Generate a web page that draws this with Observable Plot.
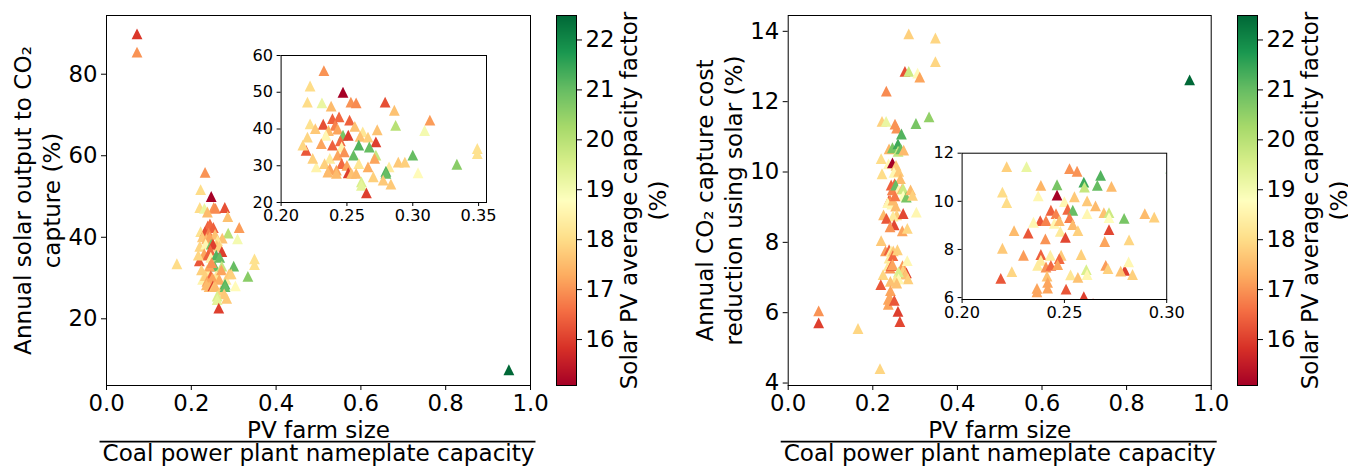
<!DOCTYPE html>
<html><head><meta charset="utf-8">
<script src="https://cdn.jsdelivr.net/npm/d3@7"></script>
<script src="https://cdn.jsdelivr.net/npm/@observablehq/plot@0.6"></script>
<style>
html,body{margin:0;padding:0;background:#fff;}
#chart{position:relative;width:1348px;height:466px;overflow:hidden;font-family:"DejaVu Sans";}
#chart svg{position:absolute;left:0;top:0;}
</style></head><body><div id="chart"></div>
<script>
// ---------- data: left panel (annual solar output to CO2 capture) ----------
const outputX = [0.072,0.072,0.949,0.166,0.2325,0.222,0.220,0.231,0.253,0.257,0.238,0.279,0.286,0.239,0.244,0.252,0.313,0.222,0.232,0.241,0.226,0.256,0.287,0.309,0.273,0.262,0.236,0.243,0.260,0.220,0.234,0.247,0.251,0.266,0.272,0.245,0.219,0.2305,0.239,0.246,0.259,0.267,0.255,0.272,0.300,0.349,0.349,0.3335,0.2165,0.237,0.243,0.248,0.259,0.271,0.282,0.289,0.294,0.304,0.2267,0.224,0.233,0.246,0.250,0.266,0.237,0.242,0.2355,0.242,0.251,0.2535,0.257,0.270,0.2796,0.2796,0.2775,0.261,0.261,0.2834,0.2648,0.247];
const outputY = [89.9,85.4,7.5,33.5,55.9,51.7,47.3,47.1,47.3,47.1,46.2,47.3,45.1,42.8,43.3,42.4,42.4,41.4,41.3,41.0,40.1,40.7,41.0,39.6,39.8,39.2,39.6,40.0,38.0,37.8,38.3,38.3,38.3,37.8,36.5,36.8,34.2,36.0,35.6,35.1,35.6,35.1,32.9,32.9,32.9,34.7,33.3,30.4,35.6,32.0,32.9,33.8,30.6,32.0,29.7,31.0,31.0,28.1,29.7,32.0,30.6,30.6,30.1,29.7,29.2,28.8,28.3,27.9,28.1,27.9,27.9,27.0,28.5,27.9,26.1,25.6,24.7,25.0,22.6,50.0];
const outputCF = [15.9,17.0,22.49,18.0,17.0,18.0,18.0,19.2,17.0,16.9,17.5,16.2,17.6,16.4,16.5,16.4,17.1,18.1,16.2,16.8,17.7,17.6,20.0,19.0,17.6,18.2,17.5,17.2,17.6,17.9,18.6,20.8,16.0,17.8,16.0,16.5,16.3,17.2,16.4,18.5,21.2,21.0,21.0,19.8,21.0,18.1,18.1,20.6,17.9,18.3,17.2,17.0,18.2,17.2,18.3,17.7,17.8,18.7,18.5,17.8,17.8,16.5,17.2,17.3,17.2,17.2,17.5,17.5,16.0,17.6,17.5,17.8,21.2,21.0,17.7,19.5,19.3,17.7,16.0,15.1];

// ---------- data: right panel (annual CO2 capture cost reduction) ----------
const costX = [0.285,0.348,0.348,0.276,0.285,0.306,0.311,0.949,0.232,0.302,0.333,0.072,0.072,0.165,0.217,0.264,0.303,
  0.2218,0.2315,0.2525,0.2562,0.2385,0.2464,0.2197,0.2218,0.2372,0.2464,0.2595,0.2598,0.2677,0.2661,0.273,0.2549,0.250,0.2611,0.2652,0.2434,0.2459,0.2516,0.2541,0.2611,0.2693,0.2718,0.2718,0.2792,0.2893,0.2939,0.2382,0.241,0.2349,0.2451,0.2475,0.2525,0.2541,0.2566,0.248,0.2254,0.2323,0.2505,0.2407,0.2718,0.2697,0.2816,0.2197,0.230,0.2385,0.2385,0.2431,0.2484,0.2475,0.2582,0.2369,0.241,0.2434,0.2467,0.2243,0.2189,0.2702,0.2713,0.2795,0.2775,0.2814,0.2833,0.2607,0.2611,0.253,0.2566,0.2415,0.2418,0.2418,0.2366,0.2366,0.2508,0.2595];
const costY = [13.93,13.81,13.14,12.86,12.86,12.81,12.70,12.62,12.30,11.38,11.57,6.05,5.71,5.55,4.41,5.75,8.86,
  11.44,11.44,11.36,11.25,10.66,10.69,10.38,9.95,10.23,10.26,10.80,10.59,11.08,10.66,10.62,10.19,9.99,10.02,9.81,9.63,9.49,9.67,9.63,9.49,9.53,9.53,9.32,9.29,9.49,9.34,9.20,9.20,9.13,9.09,9.20,9.32,9.03,8.78,8.75,8.78,8.68,8.50,8.44,8.82,8.33,8.40,8.05,7.76,7.79,7.55,7.76,7.76,7.62,7.79,7.34,7.27,7.34,7.37,7.08,6.80,7.34,7.20,7.13,7.10,7.48,6.96,7.16,6.96,6.94,6.84,6.89,6.63,6.39,6.38,6.24,6.35,6.04];
const costCF = [17.8,17.9,17.9,16.2,19.7,18.7,17.2,22.49,16.9,20.8,20.5,17.0,16.0,17.9,17.9,16.1,18.6,
  17.8,19.2,17.0,17.0,17.4,20.8,18.0,18.0,18.6,15.1,21.4,19.8,21.2,21.0,17.5,17.7,18.6,17.7,17.5,16.4,16.8,16.5,21.0,18.6,17.6,19.7,18.8,20.8,17.5,17.8,16.3,16.8,18.6,18.6,17.5,16.7,17.5,17.8,18.3,17.5,16.3,16.1,17.0,16.1,17.2,17.9,17.7,17.1,16.4,18.3,18.4,17.7,16.5,17.8,18.3,17.0,16.5,17.2,17.9,16.3,17.1,17.8,16.0,17.6,18.6,17.8,19.5,18.6,18.2,17.6,17.6,17.2,17.2,17.2,17.2,16.3,16.0];

// ---------- ticks & labels ----------
const mainXTicks = [0, 0.2, 0.4, 0.6, 0.8, 1.0];
const outputYTicks = [20, 40, 60, 80];
const costYTicks = [4, 6, 8, 10, 12, 14];
const outputInsetXTicks = [0.20, 0.25, 0.30, 0.35];
const outputInsetYTicks = [20, 30, 40, 50, 60];
const costInsetXTicks = [0.20, 0.25, 0.30];
const costInsetYTicks = [6, 8, 10, 12];
const cbTicks = [16, 17, 18, 19, 20, 21, 22];
const outputYLabel = "Annual solar output to CO\u2082\ncapture (%)";
const costYLabel = "Annual CO\u2082 capture cost\nreduction using solar (%)";
const xLabelTop = "PV farm size";
const xLabelBottom = "Coal power plant nameplate capacity";
const cbLabel = "Solar PV average capacity factor\n(%)";
const rdylgn = ["#a50026","#d73027","#f46d43","#fdae61","#fee08b","#ffffbf","#d9ef8b","#a6d96a","#66bd63","#1a9850","#006837"];
const cfDomain = [15.08, 22.49];

// ---------- rendering ----------
const W = 1348, H = 466, FONT = "DejaVu Sans", FS = 22.8, FSL = 23.1, FS_IN = 16.2;
const colorScale = () => ({type: "linear", domain: cfDomain, interpolate: d3.piecewise(d3.interpolateRgb, rdylgn), clamp: true});
const tri = {draw(ctx, size) { const h = Math.sqrt(size); ctx.moveTo(0, -h / 2); ctx.lineTo(h / 2, h / 2); ctx.lineTo(-h / 2, h / 2); ctx.closePath(); }};
const style = fs => ({background: "transparent", fontFamily: FONT, fontSize: fs + "px", color: "#000", overflow: "visible"});

function scatter({X, Y, C, frame, xDomain, yDomain, xTicks, yTicks, xFmt, fs, tick, inset, extra = []}) {
  const [l, t, r, b] = frame;
  const idx = d3.range(X.length);
  return Plot.plot({
    width: W, height: H, marginLeft: l, marginTop: t, marginRight: W - r, marginBottom: H - b,
    style: style(fs),
    x: {domain: xDomain}, y: {domain: yDomain},
    color: colorScale(),
    marks: [
      inset ? Plot.frame({fill: "white"}) : null,
      Plot.dot(idx, {x: i => X[i], y: i => Y[i], fill: i => C[i], symbol: tri, r: 6.1, clip: true}),
      Plot.frame({stroke: "#000", strokeWidth: 1}),
      Plot.axisX({ticks: xTicks, tickFormat: xFmt, tickSize: tick, tickPadding: inset ? 3 : 4, fontSize: fs, label: null}),
      Plot.axisY({ticks: yTicks, tickFormat: d3.format("d"), tickSize: tick, tickPadding: 4, fontSize: fs, label: null}),
      ...extra
    ]
  });
}
function labels(yLabel) {
  return [
    Plot.text([yLabel], {text: d => d, frameAnchor: "left", textAnchor: "middle", rotate: -90, dx: -70, lineHeight: 1.25, fontSize: FSL}),
    Plot.text([xLabelTop], {text: d => d, frameAnchor: "bottom", textAnchor: "middle", lineAnchor: "bottom", dy: 52, fontSize: FSL}),
    Plot.text([xLabelBottom], {text: d => d, frameAnchor: "bottom", textAnchor: "middle", lineAnchor: "bottom", dy: 75.7, fontSize: FSL})
  ];
}
function colorbar(frame) {
  const [l, t, r, b] = frame;
  return Plot.plot({
    width: W, height: H, marginLeft: l, marginTop: t, marginRight: W - r, marginBottom: H - b,
    style: style(FS),
    x: {domain: [0, 1], axis: null}, y: {domain: cfDomain},
    color: colorScale(),
    marks: [
      Plot.raster({x1: 0, x2: 1, y1: cfDomain[0], y2: cfDomain[1], width: 1, height: b - t, fill: (x, y) => y, imageRendering: "auto"}),
      Plot.frame({stroke: "#000", strokeWidth: 1}),
      Plot.axisY({anchor: "right", ticks: cbTicks, tickFormat: d3.format("d"), tickSize: 5, tickPadding: 4, fontSize: FS, label: null}),
      Plot.text([cbLabel], {text: d => d, frameAnchor: "right", textAnchor: "middle", rotate: -90, dx: 66, lineHeight: 1.23, fontSize: FSL})
    ]
  });
}

const chart = document.getElementById("chart");
const f1 = d3.format(".1f"), f2 = d3.format(".2f");
const svgs = [
  scatter({X: outputX, Y: outputY, C: outputCF, frame: [106, 15, 530, 385], xDomain: [0, 1], yDomain: [3.64, 94.4], xTicks: mainXTicks, yTicks: outputYTicks, xFmt: f1, fs: FS, tick: 5, extra: labels(outputYLabel)}),
  scatter({X: outputX, Y: outputY, C: outputCF, frame: [280.6, 55, 486, 202], xDomain: [0.2, 0.356], yDomain: [20, 60], xTicks: outputInsetXTicks, yTicks: outputInsetYTicks, xFmt: f2, fs: FS_IN, tick: 4, inset: true}),
  colorbar([556, 15, 576, 385]),
  scatter({X: costX, Y: costY, C: costCF, frame: [787.7, 15, 1210.7, 385], xDomain: [0, 1], yDomain: [3.93, 14.45], xTicks: mainXTicks, yTicks: costYTicks, xFmt: f1, fs: FS, tick: 5, extra: labels(costYLabel)}),
  scatter({X: costX, Y: costY, C: costCF, frame: [961.6, 152.7, 1166.2, 299], xDomain: [0.2, 0.3], yDomain: [5.92, 12], xTicks: costInsetXTicks, yTicks: costInsetYTicks, xFmt: f2, fs: FS_IN, tick: 4, inset: true}),
  colorbar([1237, 15, 1257, 385])
];
svgs.forEach(s => chart.appendChild(s));
// fraction bar above the denominator of the x label
chart.querySelectorAll("text").forEach(el => {
  if (el.textContent !== xLabelBottom) return;
  const bb = el.getBBox();
  const ln = document.createElementNS("http://www.w3.org/2000/svg", "line");
  const tr = el.getAttribute("transform");
  if (tr) ln.setAttribute("transform", tr);
  ln.setAttribute("x1", bb.x - 3); ln.setAttribute("x2", bb.x + bb.width + 1);
  ln.setAttribute("y1", bb.y + 1.5); ln.setAttribute("y2", bb.y + 1.5);
  ln.setAttribute("stroke", "#000"); ln.setAttribute("stroke-width", 1.7);
  el.parentNode.appendChild(ln);
});
</script></body></html>
